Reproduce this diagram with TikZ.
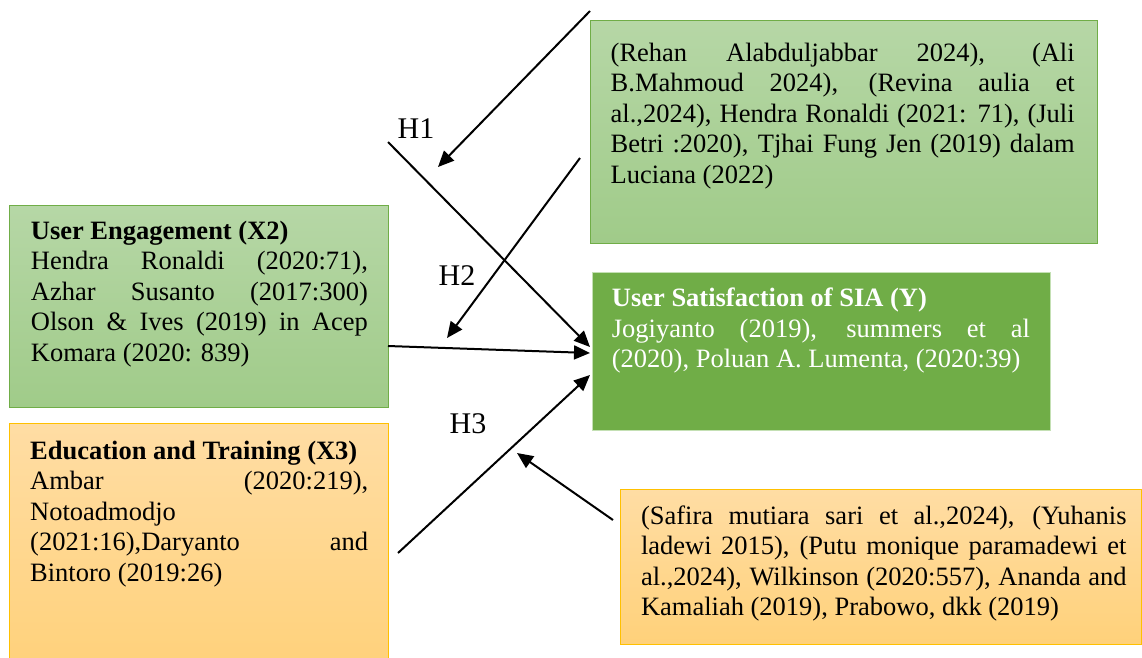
\documentclass[tikz,border=0pt]{standalone}
\usepackage{fontspec}
\setmainfont{Liberation Serif}
\usetikzlibrary{arrows.meta}
\definecolor{gborder}{RGB}{112,173,71}
\definecolor{gtop}{RGB}{182,215,166}
\definecolor{gbot}{RGB}{160,203,137}
\definecolor{otop}{RGB}{255,221,164}
\definecolor{obot}{RGB}{255,209,122}
\definecolor{oborder}{RGB}{255,192,0}
\definecolor{yfill}{RGB}{112,173,71}
\definecolor{yborder}{RGB}{196,224,180}
\begin{document}
\begin{tikzpicture}[x=1pt,y=-1pt,
  gbox/.style={draw=gborder, line width=1pt, top color=gtop, bottom color=gbot, anchor=north west, inner sep=0},
  obox/.style={draw=oborder, line width=1pt, top color=otop, bottom color=obot, anchor=north west, inner sep=0},
  ybox/.style={draw=yborder, line width=0.8pt, fill=yfill, anchor=north west, inner sep=0},
  txt/.style={anchor=base west, inner sep=0, align=justify, font=\fontsize{26.5}{30.5}\selectfont},
  hlab/.style={font=\fontsize{30}{34}\selectfont, inner sep=0},
  arr/.style={line width=2pt, -{Triangle[length=16pt,width=14pt]}}
]
\useasboundingbox (0,0) rectangle (1142,657);

% boxes
\node[gbox, minimum width=506.5pt, minimum height=222.5pt] (r1box) at (590,20) {};
\node[gbox, minimum width=379pt, minimum height=202.5pt] (x2box) at (9,204.5) {};
\node[obox, minimum width=379pt, minimum height=250pt] (x3box) at (9,423) {};
\node[ybox, minimum width=458pt, minimum height=158pt] (ybx) at (592,272) {};
\node[obox, minimum width=521.5pt, minimum height=155.5pt] (r3box) at (619.7,488.5) {};

% texts
\node[txt, text width=464pt] (r1txt) at (610.5,61) {(Rehan Alabduljabbar 2024), (Ali \linebreak B.Mahmoud 2024), (Revina aulia et \linebreak al.,2024), Hendra Ronaldi (2021: 71), (Juli \linebreak Betri :2020), Tjhai Fung Jen (2019) dalam \linebreak Luciana (2022)};

\node[txt, text width=337pt] (x2txt) at (30.7,239) {\textbf{User Engagement (X2)}\\ Hendra Ronaldi (2020:71), \linebreak Azhar Susanto (2017:300) \linebreak Olson \& Ives (2019) in Acep \linebreak Komara (2020: 839)};

\node[txt, text width=338pt] (x3txt) at (30,459) {\textbf{Education and Training (X3)}\\ Ambar (2020:219), \linebreak Notoadmodjo \linebreak (2021:16),Daryanto and \linebreak Bintoro (2019:26)};

\node[txt, text width=418pt, text=white] (ytxt) at (611.7,306.7) {\textbf{User Satisfaction of SIA (Y)}\\ Jogiyanto (2019), summers et al \linebreak (2020), Poluan A. Lumenta, (2020:39)};

\node[txt, text width=485.5pt] (r3txt) at (640.8,524.3) {(Safira mutiara sari et al.,2024), (Yuhanis \linebreak ladewi 2015), (Putu monique paramadewi et \linebreak al.,2024), Wilkinson (2020:557), Ananda and \linebreak Kamaliah (2019), Prabowo, dkk (2019)};

% hypothesis labels
\node[hlab] (h1) at (416,129) {H1};
\node[hlab] (h2) at (457,276) {H2};
\node[hlab] (h3) at (468,424) {H3};

% connector end points
\coordinate (a1s) at (590,11);
\coordinate (a1e) at (438,167);
\coordinate (h1s) at (388,142);
\coordinate (h1e) at (590,347);
\coordinate (h2s) at (580,158);
\coordinate (h2e) at (447,338);
\coordinate (x2s) at (388,346);
\coordinate (x2e) at (590,353);
\coordinate (h3s) at (398,553);
\coordinate (h3e) at (590,375);
\coordinate (b1s) at (613,520);
\coordinate (b1e) at (517,453);

\draw[arr] (a1s) -- (a1e);
\draw[arr] (h1s) -- (h1e);
\draw[arr] (h2s) -- (h2e);
\draw[arr] (x2s) -- (x2e);
\draw[arr] (h3s) -- (h3e);
\draw[arr] (b1s) -- (b1e);
\end{tikzpicture}
\end{document}
